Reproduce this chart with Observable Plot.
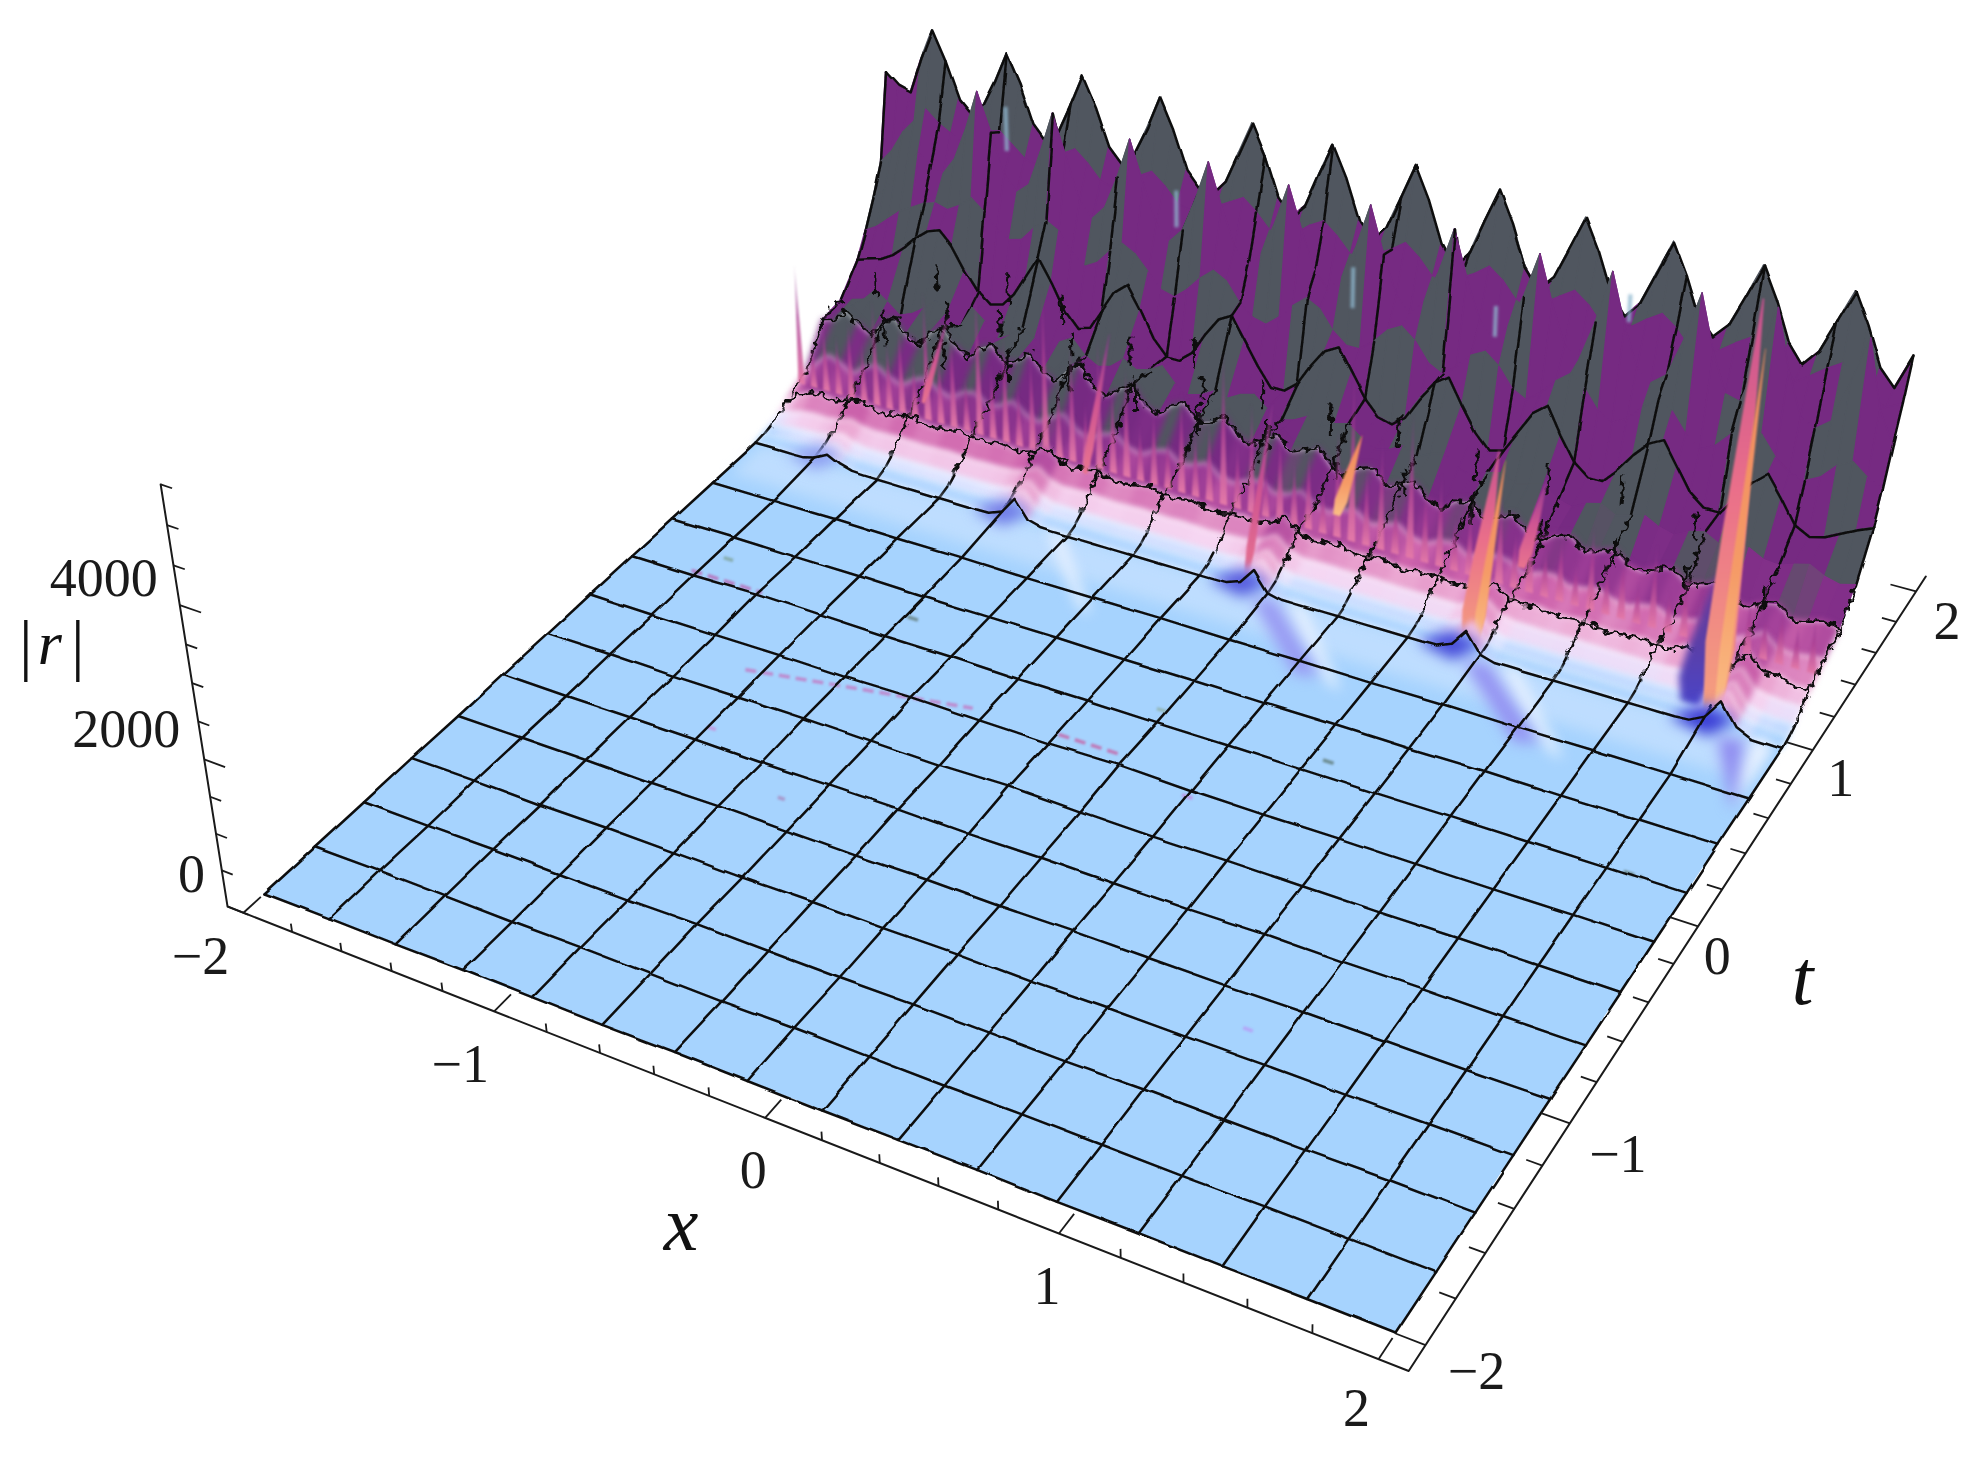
<!DOCTYPE html>
<html><head><meta charset="utf-8">
<script src="https://cdn.jsdelivr.net/npm/d3@7"></script>
<script src="https://cdn.jsdelivr.net/npm/@observablehq/plot@0.6"></script>
<style>html,body{margin:0;background:#fff}svg{display:block;filter:blur(.6px)}svg text{font-family:"Liberation Serif","Times New Roman",serif !important}</style>
</head><body><div id="chart"></div>
<script>
// ---------- surface values |r|(x,t), one named list per t row; x runs over 76 columns from -2 to 2
const tRows=[2,1.9333,1.8667,1.8,1.7333,1.6,1.4667,1.3333,1.2,1.1333,1.0667,1.02,.96];
const r200=[3450,3300,3250,3750,4180,3800,3320,3150,3320,3680,4100,3720,3210,3010,3200,3600,4030,3650,3160,2960,3160,3540,3990,3600,3090,2880,2860,3070,3500,3930,3540,3030,2820,3010,3470,3900,3510,2990,2760,2970,3420,3880,3480,2950,2680,2900,3380,3830,3430,2910,2660,2860,3290,3730,3340,2840,2590,2810,3250,3690,3300,2820,2600,2800,3220,3660,3270,2780,2530,2750,3180,3610,3220,2740,2530,2980];
const r193=[2300,2500,2800,3000,3200,3050,2950,2850,2950,3050,3150,3000,2850,2800,2950,3050,3150,3000,2800,2750,2900,3000,3100,2950,2750,2700,2700,2850,2950,3050,2900,2700,2650,2750,2900,3000,2850,2650,2600,2750,2850,2980,2830,2620,2550,2700,2800,2940,2800,2580,2500,2650,2780,2900,2760,2540,2480,2620,2760,2880,2740,2520,2450,2600,2740,2860,2720,2500,2420,2560,2700,2820,2680,2470,2400,2500];
const r187=[1900,2050,2300,2500,2700,2600,2500,2750,3200,3750,3250,2700,2500,2650,3150,3700,3150,2600,2400,2600,3050,3600,3050,2550,2350,2550,3000,3550,3000,2500,2300,2500,2950,3500,2950,2450,2250,2450,2900,3500,2900,2400,2200,2400,2850,3450,2850,2350,2150,2350,2800,3400,2800,2300,2150,2700,3400,2750,2250,2100,2250,2750,3400,2700,2200,2150,2750,3450,2700,2150,2050,2200,2750,3350,2500,2100];
const r180=[1550,1650,1800,1950,2050,2150,2200,2150,2250,2400,2250,2050,1950,2000,2200,2350,2250,2000,1850,1950,2150,2300,2200,2000,1800,1750,1900,2100,2250,2150,1900,1750,1700,1850,2050,2200,2100,1850,1700,1700,1850,2050,2150,2000,1750,1650,1800,2000,2100,1950,1700,1600,1750,1950,2100,1950,1700,1600,1700,1900,2050,1950,1700,1550,1650,1850,2000,1950,1700,1550,1500,1600,1800,1900,1750,1650];
const r173=[1250,1300,1350,1450,1600,1780,1920,1980,1800,1500,1250,1100,1150,1350,1650,1950,1650,1300,1100,1150,1450,1750,1900,1600,1250,1050,1050,1200,1500,1750,1850,1550,1250,1000,1000,1150,1450,1700,1800,1500,1200,1000,950,1100,1400,1650,1780,1450,1150,950,1000,1300,1600,1750,1400,1100,950,950,1150,1400,1600,1700,1400,1100,950,950,1200,1450,1620,1350,1050,950,1000,1100,1200,1280];
const r160=[900,950,1000,1180,1050,900,980,1100,1250,1150,1000,1300,1150,950,1050,1200,1100,950,1150,1250,1050,950,1000,1150,1050,1100,1200,1000,900,950,1050,1000,1100,1150,1000,900,950,1050,950,1050,1100,950,850,900,1000,900,1000,1050,900,850,950,1000,900,950,1000,850,800,900,950,850,900,950,850,800,900,950,850,900,900,800,780,850,900,800,750,800];
const r147=[850,900,1080,950,820,1050,1180,980,860,1100,1230,1020,880,1080,1160,960,1040,1200,980,900,1120,1240,960,880,1040,1150,900,820,1000,1100,880,940,1060,840,760,920,1000,820,900,980,760,700,860,920,720,800,880,680,620,780,820,640,720,800,620,560,700,740,580,640,720,560,520,640,680,520,580,660,480,440,560,600,440,480,540,500];
const r133=[350,520,680,600,500,650,720,600,540,660,740,620,560,680,730,600,640,760,620,560,680,780,600,540,650,700,560,520,620,680,540,580,660,520,480,570,620,500,540,640,500,450,540,580,450,500,560,430,400,490,520,400,450,510,480,360,440,470,370,400,450,360,330,400,430,330,370,420,320,300,380,500,340,320,350,370];
const r120=[200,300,380,400,360,420,480,420,380,420,460,420,380,420,460,420,400,440,420,400,460,560,440,380,420,440,380,360,400,430,380,370,410,360,340,380,400,360,420,560,400,320,350,370,320,330,360,310,300,330,340,300,310,340,460,300,290,310,270,280,300,260,250,280,290,250,260,380,300,230,300,520,300,320,240,250];
const r113=[110,170,220,240,230,260,320,260,240,250,260,250,240,250,260,250,240,250,250,260,300,420,280,230,240,250,230,220,230,240,230,220,230,220,210,220,230,240,310,430,270,200,210,210,200,200,210,200,190,190,200,190,190,260,380,220,180,180,170,170,180,170,170,170,170,160,170,190,170,160,260,460,220,180,160,160];
const r107=[50,80,110,120,130,170,240,160,120,120,125,120,120,125,125,120,120,120,125,140,200,360,190,120,120,115,115,110,110,115,110,105,110,105,105,105,110,130,200,360,170,100,100,100,95,95,95,95,90,90,90,90,100,180,340,140,85,85,85,80,80,80,80,80,80,80,80,90,80,90,200,420,160,100,80,75];
const r100=[20,30,40,45,55,100,190,80,50,45,50,45,45,50,50,45,45,45,50,70,130,330,110,50,45,45,45,40,40,45,40,40,40,40,40,40,40,60,130,330,90,40,40,35,35,35,35,35,35,35,35,35,50,120,330,80,35,30,30,30,30,30,30,30,30,30,30,30,30,45,140,400,110,50,30,30];
const r093=[0,5,5,5,10,60,150,60,10,5,5,5,5,5,5,5,5,5,5,10,80,310,60,10,5,5,5,5,5,5,5,5,5,5,5,5,5,10,80,300,50,5,5,5,5,5,5,5,5,5,5,5,10,90,320,60,5,5,5,5,5,5,5,5,5,5,5,5,5,20,120,380,100,10,5,0];
const surfaceRows=[r200,r193,r187,r180,r173,r160,r147,r133,r120,r113,r107,r100,r093];
const meshRowT=[2,1.7333,1.4667,1.2,.96];
// low ripple of the flat part at the 16 mesh columns, t = -2 ... 0.667
const flatT=[-2,-1.7333,-1.4667,-1.2,-.9333,-.6667,-.4,-.1333,.1333,.4,.6667];
const flat0=[0,5,0,10,5,0,10,5,0,5,10,0,5,0,5,0];
const flat1=[0,10,5,0,10,5,0,15,5,0,10,5,0,10,5,0];
const flat2=[0,0,10,5,0,15,5,0,10,5,0,10,5,0,10,0];
const flat3=[5,10,0,10,5,0,10,5,15,0,10,5,10,0,5,0];
const flat4=[0,5,10,0,15,5,0,10,0,10,5,0,10,5,0,5];
const flat5=[5,0,10,10,0,10,15,0,10,5,0,15,5,10,0,0];
const flat6=[0,10,5,15,20,10,5,30,10,0,10,5,0,10,5,0];
const flat7=[5,5,10,20,15,35,20,15,35,10,5,10,5,5,10,5];
const flat8=[5,10,35,25,15,20,10,15,10,15,10,5,10,5,5,0];
const flat9=[0,10,10,15,5,10,15,5,10,5,10,5,15,5,10,5];
const flat10=[0,5,15,10,15,5,10,15,5,10,5,15,5,10,5,0];
const flatRows=[flat0,flat1,flat2,flat3,flat4,flat5,flat6,flat7,flat8,flat9,flat10];
// thin teeth standing on the rising front
const toothR=[2000,1000,1300,1150,1400,1200,1800,1250,1550,1100,2100,1350,1700,1100,2400,1400,1800,1200,1700,2650,1400,1950,1200,2100,1550,1800,1100,1400,1050,1700,1200,1400,2400,1250,1800,1050,1550,1200,1400,1000,1750,2650,1400,1800,1100,2250,1350,1550,1050,1250,1000,1550,1100,1400,1000,1200,900,1400,1000,1200,850,1400,900,1100,1000,1250,850,1050,900,1100,850,1000];
// tall spires
const spireX=[1.655,1.746,1.762,.884,.90,.92,.031,.22,-.72,-1.46];
const spireR=[1350,4900,4300,2250,2100,1250,2000,1150,1900,1300];
const spireW=[.055,.05,.02,.042,.018,.024,.016,.024,.016,.014];
const spireT0=[1.03,.99,1,.98,1,1.33,1,1.33,1.2,1.3];
const spireZ0=[40,40,40,40,40,450,40,450,350,450];
const spireFill=["url(#blue)","url(#salmon)","url(#orange)","url(#salmon)","url(#orange)","url(#rose)","url(#rose)","url(#orange)","url(#rose)","url(#rose)"];
const spireBlur=["blur(3.5px)","blur(1.2px)","blur(1.2px)","blur(1.2px)","blur(1.2px)","blur(1.2px)","blur(1.2px)","blur(1.2px)","blur(1.2px)","blur(1.2px)"];
// cusps at the foot of the front, with blue wakes
const notchX=[-1.68,-.88,.08,.88,1.787];
const notchAlpha=[.35,.6,.8,.9,1];
// pale streaks in the dark part
const glintX=[-1.42,-.71,0,.55,1.04];
const glintR0=[3570,3000,2560,2520,3100];
const glintR1=[2970,2500,2010,2110,2740];
// dark scratches of the mesh columns in the spiky part
const scratchM=[1,1,2,2,2,3,3,3,4,4,4,5,5,6,6,6,7,7,8,8,9,9,10,10,11,11,12,12,13,13,14];
const scratchDx=[.01,-.02,0,.02,-.015,.01,-.02,.02,0,.015,-.02,.01,-.01,0,.02,-.015,.01,-.01,.015,-.01,.01,-.015,0,.015,-.01,.01,0,.012,-.01,.01,0];
const scratchR0=[700,1400,600,1200,1700,700,1300,1800,800,1300,1700,800,1400,700,1200,1600,700,1300,600,1200,600,1300,500,1100,500,1200,500,1300,400,1100,500];
const scratchR1=[1250,1750,1050,1600,2050,1150,1700,2200,1200,1600,2100,1250,1800,1150,1500,2000,1150,1700,1000,1600,1000,1700,850,1500,850,1600,850,1700,750,1500,800];
// small flecks on the flat part
const fleckX0=[-1.76,-1.265,-.13,-.925,.708,.094,-1.204,-.787,.383,1.789,1.068,-1.70];
const fleckT0=[.16,-.252,-.07,.273,.214,.208,-.585,-.796,-.165,.139,-1.08,.28];
const fleckX1=[-1.46,-.458,.1,-.88,.76,.13,-1.17,-.76,.44,1.85,1.10,-1.66];
const fleckT1=[.16,-.078,-.07,.273,.214,.208,-.585,-.796,-.165,.139,-1.08,.28];
const fleckC=["#b968b4","#c27cc4","#c565a8","#65807e","#5f7c78","#8fb0a8","#c890d8","#a88cc0","#c08ae0","#607c78","#b69bf5","#7fa49c"];
// axes
const xMajor=[-2,-1,0,1,2];
const tMajor=[-2,-1,0,1,2];
const zMajor=[0,2000,4000];
const zMinor=[500,1000,1500,2500,3000,3500,4500,5000,5500];
const xMinor=[-1.8,-1.6,-1.4,-1.2,-.8,-.6,-.4,-.2,.2,.4,.6,.8,1.2,1.4,1.6,1.8];
const tMinor=xMinor;
const xLabels=["\u22122","\u22121","0","1","2"];
const tLabels=["\u22122","\u22121","0","1","2"];
const zLabels=["0","2000","4000"];

// ---------- camera
const W=1981,H=1459;
const cornerA=[264,893],cornerB=[1395,1333],cornerC=[1890,584],cornerD=[897,313];
const nadir=[1225,7200],zGain=1.19e-5,zAxisGain=.957;
const [x0,y0]=cornerA,[x1,y1]=cornerB,[x2,y2]=cornerC,[x3,y3]=cornerD;
const dx1=x1-x2,dx2=x3-x2,sx=x0-x1+x2-x3,dy1=y1-y2,dy2=y3-y2,sy=y0-y1+y2-y3;
const det=dx1*dy2-dx2*dy1,g=(sx*dy2-dx2*sy)/det,h=(dx1*sy-sx*dy1)/det;
const a=x1-x0+g*x1,b=x3-x0+h*x3,c=x0,d=y1-y0+g*y1,e=y3-y0+h*y3,f=y0;
function project(x,t,z=0){
  const u=(x+2)/4,v=(t+2)/4,w=1+g*u+h*v;
  const X=(a*u+b*v+c)/w,Y=(d*u+e*v+f)/w;
  const s=zGain*z/w,q=-s/(1-s);
  return [X+(nadir[0]-X)*q,Y+(nadir[1]-Y)*q];
}
const xLow=-2.066,xHigh=2.09,tLow=-2.109,tHigh=2.1,zTop=5500;
const colX=i=>-2+4*i/75;
const zAxisPoint=(x,t,z)=>project(x,t,z*zAxisGain);

// ---------- colours
const band=d3.scaleLinear().domain([0,40,90,160,250,360,480,620]).range(["#a6d3fe","#b8d8ff","#e3e6ff","#f6d6f2","#eba7d2","#cf65ad","#a03f98","#7a2a85"]).clamp(true);
function localMean(A,i){const s=A.slice(Math.max(0,i-3),Math.min(A.length,i+5));return d3.mean(s)}
const GRAY="#50565f",PURPLE="#762a82";
function cellFill(A,B,i,t){
  const r00=A[i],r01=A[i+1],r10=B[i],r11=B[i+1];
  const m=(r00+r01+r10+r11)/4,dx=(r01+r11-r00-r10)/2;
  const lift=(r00+r01)/2-localMean(A,i);
  let isGray;
  if(t===2) isGray=lift>-60;
  else if(t===1.9333) isGray=dx>170;
  else if(t===1.8667) isGray=dx>60;
  else if(t===1.8) isGray=lift>40;
  else isGray=lift+.35*dx>0;
  const upper=isGray?GRAY:PURPLE;
  return m<560?band(m):d3.interpolateRgb(band(560),upper)(Math.min(1,(m-560)/220));
}
function strip(j){
  const A=surfaceRows[j],B=surfaceRows[j+1],out=[];
  for(let i=0;i<75;i++){
    const fill=cellFill(A,B,i,tRows[j]);
    for(const k of [i,i+1]){
      const p=project(colX(k),tRows[j],A[k]),q=project(colX(k),tRows[j+1],B[k]);
      out.push({id:i,x1:p[0],y1:p[1],x2:q[0],y2:q[1],fill});
    }
  }
  return out;
}
const pt=(x,t,z,id=0)=>{const p=project(x,t,z);return {x:p[0],y:p[1],id}};
const areaOf=(data,o={})=>Plot.area(data,{x1:"x1",y1:"y1",x2:"x2",y2:"y2",z:"id",...o});
function quad(list,id,fill){
  const p=list.map(([x,t])=>project(x,t,0));
  return [{id,fill,x1:p[0][0],y1:p[0][1],x2:p[3][0],y2:p[3][1]},{id,fill,x1:p[1][0],y1:p[1][1],x2:p[2][0],y2:p[2][1]}];
}
const meshStyle={x:"x",y:"y",z:"id",stroke:"#0c0c0c",strokeWidth:2.5,curve:"linear"};

const marks=[];
marks.push(()=>{
  const defs=d3.create("svg:defs");
  const grads={salmon:[["0%","#c8518f"],["45%","#ea6f8a"],["100%","#f6a27e"]],
    orange:[["0%","#f08a5c"],["60%","#f59b67"],["100%","#fbbf86"]],
    rose:[["0%","#8a3590"],["50%","#cf5592"],["100%","#e9748f"]],
    blue:[["0%","#6a3a96"],["55%","#5a3fa8"],["100%","#4a44c8"]],
    tooth:[["0%","#8a3590",.15],["45%","#ac4093",.75],["100%","#e47aa8",1]]};
  for(const k in grads){
    const l=defs.append("linearGradient").attr("id",k).attr("x1",0).attr("x2",0).attr("y1",0).attr("y2",1);
    grads[k].forEach(([o,c,op])=>l.append("stop").attr("offset",o).attr("stop-color",c).attr("stop-opacity",op??1));
  }
  const wob=(id,freq,scale)=>{
    const flt=defs.append("filter").attr("id",id).attr("filterUnits","userSpaceOnUse").attr("x",0).attr("y",0).attr("width",W).attr("height",H);
    flt.append("feTurbulence").attr("type","fractalNoise").attr("baseFrequency",freq).attr("numOctaves",1).attr("seed",3).attr("result","n");
    flt.append("feDisplacementMap").attr("in","SourceGraphic").attr("in2","n").attr("scale",scale).attr("xChannelSelector","R").attr("yChannelSelector","G");
  };
  wob("wobble",.035,4);
  wob("jag",.16,13);
  return defs.node();
});

const spireLevels=[0,.18,.45,.75,1],spireShape=[.55,1,.78,.4,.05];
function spireData(id){
  const t0=spireT0[id],z0=spireZ0[id];
  return spireLevels.map((l,n)=>{
    const t=t0+.2*l,z=z0+(spireR[id]-z0)*l,w=spireW[id]*spireShape[n];
    const p=project(spireX[id]-w,t,z),q=project(spireX[id]+w,t,z);
    return {id,x1:p[0],y1:p[1],x2:q[0],y2:q[1]};
  });
}
function toothData(){
  const out=[];
  toothR.forEach((r,i)=>{
    const x=-1.98+i*3.96/(toothR.length-1),hw=.015;
    const p=project(x-hw,1.27,300),q=project(x+hw,1.27,300),tip=project(x,1.27,r);
    out.push({id:i,x1:p[0],y1:p[1],x2:q[0],y2:q[1]},{id:i,x1:tip[0],y1:tip[1],x2:tip[0],y2:tip[1]});
  });
  return out;
}
for(let j=0;j<surfaceRows.length-1;j++){
  const low=tRows[j]<1.5;
  marks.push(areaOf(strip(j),{fill:"fill",stroke:"fill",strokeWidth:1.4,...(low?{imageFilter:"blur(3px)"}:{})}));
  const rowJag=tRows[j]<1.7&&tRows[j]>1;
  if(meshRowT.includes(tRows[j])) marks.push(Plot.line(surfaceRows[j].map((r,i)=>pt(colX(i),tRows[j],r)),{...meshStyle,imageFilter:rowJag?"url(#jag)":"url(#wobble)"}));
  const seg=[];
  for(let m=0;m<=15;m++){
    seg.push(pt(colX(5*m),tRows[j],surfaceRows[j][5*m],m),pt(colX(5*m),tRows[j+1],surfaceRows[j+1][5*m],m));
  }
  marks.push(Plot.line(seg,{...meshStyle,imageFilter:tRows[j]<1.7&&tRows[j]>1.1?"url(#jag)":"url(#wobble)"}));
  if(tRows[j]===1.4667) marks.push(Plot.link(scratchM.map((m,i)=>{const p=project(-2+4*m/15+scratchDx[i],1.47,scratchR0[i]),q=project(-2+4*m/15+scratchDx[i],1.47,scratchR1[i]);return{a:p[0],b:p[1],c:q[0],d:q[1]}}),
    {x1:"a",y1:"b",x2:"c",y2:"d",stroke:"#0c0c0c",strokeWidth:3,imageFilter:"url(#jag)"}));
  if(tRows[j]===1.3333) marks.push(areaOf(toothData(),{fill:"url(#tooth)",imageFilter:"blur(.8px)"}));
  if(tRows[j]===1.0667) spireX.forEach((_,id)=>marks.push(areaOf(spireData(id),{fill:spireFill[id],imageFilter:spireBlur[id]})));
}
// flat floor
const floor=r093.map((r,i)=>{const p=project(colX(i),-2,0),q=project(colX(i),.96,r);return{id:0,x1:p[0],y1:p[1],x2:q[0],y2:q[1]}});
marks.push(areaOf(floor,{fill:"#a6d3fe"}));
marks.push(areaOf(quad([[-1.97,.97],[1.97,.97],[1.97,.75],[-1.97,.75]],0,"#d2e6ff"),{fill:"#d2e6ff",fillOpacity:.55,imageFilter:"blur(7px)"}));
// wakes
const blobDx=[-.17,-.02,.03,-.1],blobT=[.95,.91,1.04,1.07];
const tailDx=[.01,.09,.42,.34],tailT=[.92,.95,.62,.59];
const whiteDx=[.12,.2,.52,.46],whiteT=[.98,.95,.58,.6];
const wakeData=[];
notchX.forEach((x,i)=>{
  const blue=d3.interpolateRgb("#bcd2ff","#3c3fd6")(notchAlpha[i]);
  if(i>=1) wakeData.push(...quad(whiteDx.map((dx,n)=>[Math.min(x+dx,1.97),whiteT[n]]),"w"+i,"#eef4ff"));
  if(i>=2) wakeData.push(...quad(tailDx.map((dx,n)=>[Math.min(x+dx,1.97),tailT[n]]),"t"+i,d3.interpolateRgb("#bcd2ff","#8f8cf0")(notchAlpha[i])));
  wakeData.push(...quad(blobDx.map((dx,n)=>[x+dx,blobT[n]]),"b"+i,blue));
});
marks.push(areaOf(wakeData,{fill:"fill",imageFilter:"blur(7px)"}));
// flecks
marks.push(Plot.link(fleckX0.map((x,i)=>{const p=project(x,fleckT0[i]),q=project(fleckX1[i],fleckT1[i]);return{a:p[0],b:p[1],c:q[0],d:q[1],col:fleckC[i]}}),
  {x1:"a",y1:"b",x2:"c",y2:"d",stroke:"col",strokeWidth:3.6,strokeDasharray:"11 6",strokeOpacity:.8,imageFilter:"blur(1.2px)"}));
// glints
marks.push(Plot.link(glintX.map((x,i)=>{const p=project(x,1.9,glintR0[i]),q=project(x,1.9,glintR1[i]);return{a:p[0],b:p[1],c:q[0],d:q[1]}}),
  {x1:"a",y1:"b",x2:"c",y2:"d",stroke:"#8fb8d0",strokeWidth:4,strokeOpacity:.8,imageFilter:"blur(1.4px)"}));
// flat mesh
const flatLines=[];
flatRows.forEach((row,k)=>row.forEach((r,m)=>flatLines.push(pt(-2+4*m/15,flatT[k],r,"r"+k))));
for(let m=0;m<=15;m++){
  flatRows.forEach((row,k)=>flatLines.push(pt(-2+4*m/15,flatT[k],row[m],"c"+m)));
  flatLines.push(pt(-2+4*m/15,.96,r093[5*m],"c"+m));
}
marks.push(Plot.line(flatLines,{...meshStyle,imageFilter:"url(#wobble)"}));
marks.push(Plot.line(r093.map((r,i)=>pt(colX(i),.96,r)),{...meshStyle,imageFilter:"url(#wobble)"}));

// ---------- axes
const axisStyle={x:"x",y:"y",stroke:"#1a1a1a",strokeWidth:2};
const ap=(x,t,z)=>{const p=zAxisPoint(x,t,z);return{x:p[0],y:p[1]}};
marks.push(Plot.line([ap(xLow,tLow,zTop),ap(xLow,tLow,0),ap(xHigh,tLow,0),ap(xHigh,tHigh,0)],axisStyle));
const tickRows=[];
const tick=(p,q)=>tickRows.push({a:p[0],b:p[1],c:q[0],d:q[1]});
zMajor.forEach(z=>tick(zAxisPoint(xLow,tLow,z),zAxisPoint(xLow+.085,tLow,z)));
zMinor.forEach(z=>tick(zAxisPoint(xLow,tLow,z),zAxisPoint(xLow+.045,tLow,z)));
xMajor.forEach(x=>tick(project(x,tLow,0),project(x,tLow+.09,0)));
xMinor.forEach(x=>tick(project(x,tLow,0),project(x,tLow,110)));
tMajor.forEach(t=>tick(project(xHigh,t,0),project(xHigh-.09,t,0)));
tMinor.forEach(t=>tick(project(xHigh,t,0),project(xHigh-.05,t,0)));
marks.push(Plot.link(tickRows,{x1:"a",y1:"b",x2:"c",y2:"d",stroke:"#1a1a1a",strokeWidth:1.8}));

// ---------- labels
const serif='Liberation Serif';
const xLabelDx=[-43,-34,-12,-12,-22],xLabelDy=[44,53,53,53,50];
const tLabelDx=[51,48,19,28,31],tLabelDy=[27,31,30,29,30];
const zLabelDx=[-36,-78,-76],zLabelDy=[-32,-30,-26];
const labels=[];
xMajor.forEach((x,i)=>{const p=project(x,tLow,0);labels.push({x:p[0]+xLabelDx[i],y:p[1]+xLabelDy[i],s:xLabels[i]})});
tMajor.forEach((t,i)=>{const p=project(xHigh,t,0);labels.push({x:p[0]+tLabelDx[i],y:p[1]+tLabelDy[i],s:tLabels[i]})});
zMajor.forEach((z,i)=>{const p=zAxisPoint(xLow,tLow,z);labels.push({x:p[0]+zLabelDx[i],y:p[1]+zLabelDy[i],s:zLabels[i]})});
marks.push(Plot.text(labels,{x:"x",y:"y",text:"s",fontFamily:serif,fontSize:54,fill:"#1a1a1a",textAnchor:"middle",lineAnchor:"middle"}));
const barPos=project(xLow,tLow,3200);
const axisTitles=[{pos:project(-.32,tLow,0),dx:5,dy:142,s:"x",size:78},{pos:project(xHigh,.12,0),dx:90,dy:75,s:"t",size:78},{pos:barPos,dx:-138,dy:-12,s:"r",size:62}];
marks.push(Plot.text(axisTitles.map(o=>({x:o.pos[0]+o.dx,y:o.pos[1]+o.dy,s:o.s,size:o.size})),{x:"x",y:"y",text:"s",fontSize:"size",fontFamily:serif,fontStyle:"italic",fill:"#111",textAnchor:"middle",lineAnchor:"middle"}));
marks.push(Plot.text([{x:barPos[0]-162,y:barPos[1]-10},{x:barPos[0]-110,y:barPos[1]-10}],{x:"x",y:"y",text:()=>"|",fontSize:68,fontFamily:serif,fill:"#111",textAnchor:"middle",lineAnchor:"middle"}));

const chart=Plot.plot({width:W,height:H,margin:0,marginTop:0,marginBottom:0,marginLeft:0,marginRight:0,
  x:{domain:[0,W],range:[0,W],axis:null},y:{domain:[0,H],range:[0,H],axis:null},
  color:{type:"identity"},style:{background:"#fff",overflow:"visible"},marks});
document.getElementById("chart").append(chart);
</script></body></html>
